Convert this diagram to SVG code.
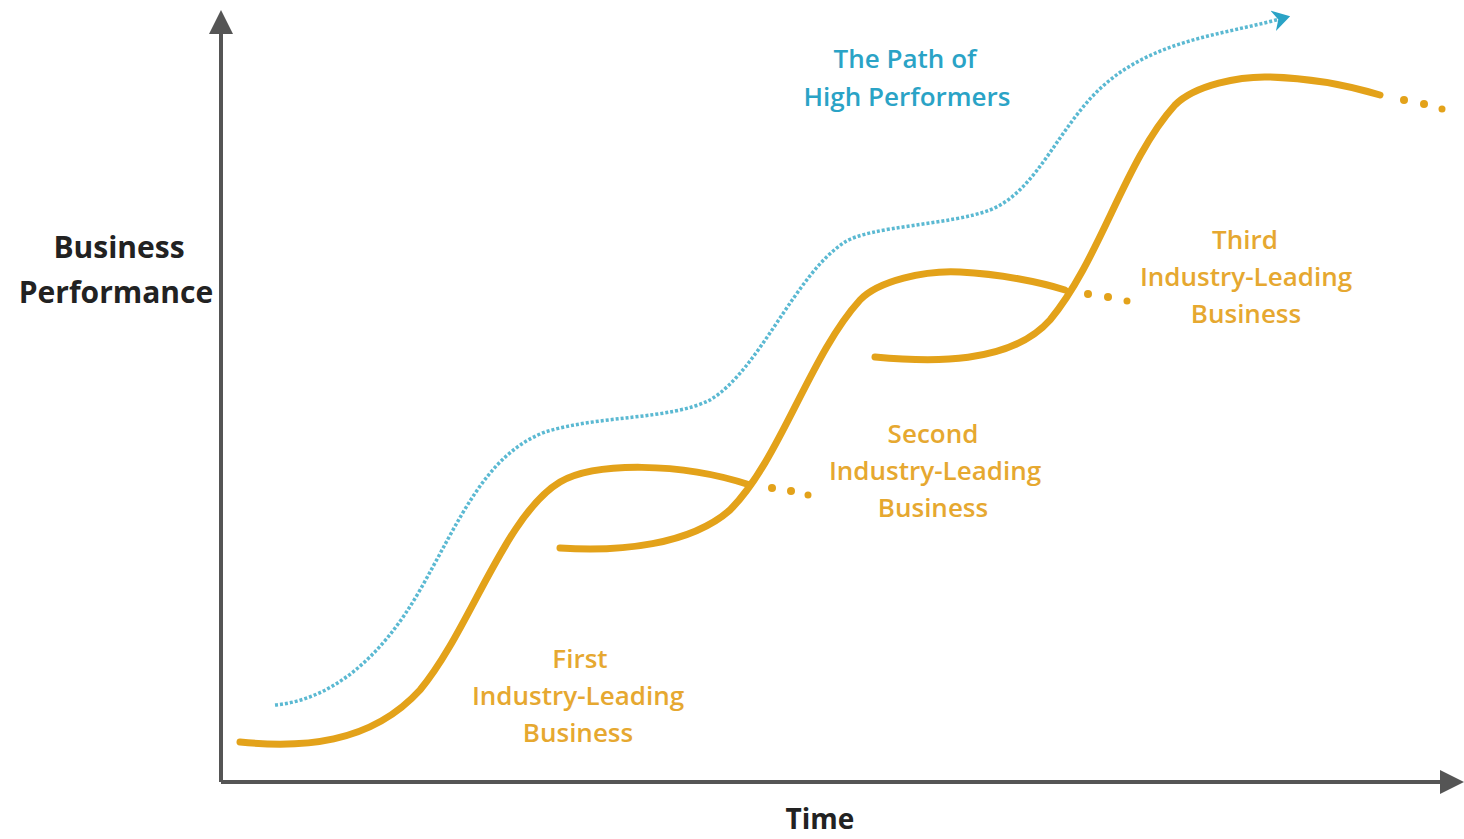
<svg xmlns="http://www.w3.org/2000/svg" width="1464" height="839" viewBox="0 0 1464 839">
<style>
.axis{stroke:#555;stroke-width:4;fill:none}
.curve{stroke:#E3A21A;stroke-width:7;fill:none;stroke-linecap:round}
.dot{fill:#E3A21A}
.path{stroke:#5BB9D2;stroke-width:3.5;fill:none;stroke-dasharray:3 2}
.lbl{font-family:"Open Sans",Lato,sans-serif;font-weight:600;font-size:26px;text-anchor:middle}
.o{fill:#E6A830}
.b{fill:#2AA3C6}
.k{fill:#222;font-size:30px;font-weight:bold}
</style>
<defs>
<marker id="ah" markerWidth="6" markerHeight="6" refX="3" refY="3" orient="auto" markerUnits="strokeWidth">
<path d="M0,0 L6,3 L0,6 Z" fill="#555"/>
</marker>
<marker id="bh" markerWidth="5" markerHeight="6" refX="2" refY="3" orient="auto" markerUnits="strokeWidth">
<path d="M0,0 L5,3 L0,6 L1.5,3 Z" fill="#2AA3C6"/>
</marker>
</defs>
<g id="axes">
<line class="axis" x1="221" y1="782" x2="221" y2="22" marker-end="url(#ah)"/>
<line class="axis" x1="221" y1="782" x2="1452" y2="782" marker-end="url(#ah)"/>
</g>
<g id="connectors">
<path id="highPath" class="path" d="M275,705 C330,700 380,660 420,590 C460,520 485,455 545,432 C600,415 670,420 710,400 C760,370 795,274 845,242 C870,226 950,225 990,210 C1040,190 1060,120 1110,80 C1160,40 1220,35 1280,19" marker-end="url(#bh)"/>
</g>
<g id="first">
<path class="curve" d="M240,742 C300,748 370,745 420,690 C470,630 505,515 560,482 C595,462 680,462 750,485"/>
<circle class="dot" cx="772" cy="488" r="4"/><circle class="dot" cx="791" cy="491" r="4"/><circle class="dot" cx="808" cy="495" r="3.5"/>
<text class="lbl o" x="580" y="668">First</text>
<text class="lbl o" x="578" y="705">Industry-Leading</text>
<text class="lbl o" x="578" y="742">Business</text>
</g>
<g id="second">
<path class="curve" d="M560,548 C620,552 690,545 730,510 C780,460 810,355 860,300 C878,281 925,270 960,272 C1000,274 1040,282 1065,290"/>
<circle class="dot" cx="1088" cy="294" r="4"/><circle class="dot" cx="1108" cy="297" r="4"/><circle class="dot" cx="1127" cy="301" r="3.5"/>
<text class="lbl o" x="933" y="443">Second</text>
<text class="lbl o" x="935" y="480">Industry-Leading</text>
<text class="lbl o" x="933" y="517">Business</text>
</g>
<g id="third">
<path class="curve" d="M875,357 C930,362 1010,365 1050,320 C1100,260 1125,160 1175,105 C1195,85 1240,76 1270,77 C1310,78 1350,86 1380,95"/>
<circle class="dot" cx="1404" cy="100" r="4"/><circle class="dot" cx="1424" cy="104" r="4"/><circle class="dot" cx="1442" cy="109" r="3.5"/>
<text class="lbl o" x="1245" y="249">Third</text>
<text class="lbl o" x="1246" y="286">Industry-Leading</text>
<text class="lbl o" x="1246" y="323">Business</text>
</g>
<g id="pathLabel">
<text class="lbl b" x="905" y="68">The Path of</text>
<text class="lbl b" x="907" y="106">High Performers</text>
</g>
<g id="axisLabels">
<text class="lbl k" x="119" y="258">Business</text>
<text class="lbl k" x="116" y="303">Performance</text>
<text class="lbl k" x="820" y="829" style="font-size:28px">Time</text>
</g>
</svg>
